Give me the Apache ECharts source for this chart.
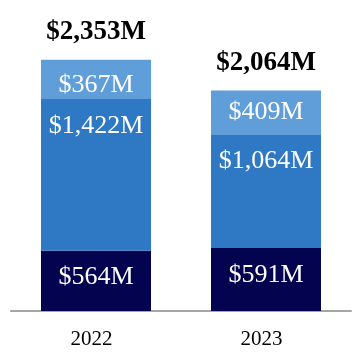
<!DOCTYPE html>
<html><head><meta charset="utf-8">
<script src="https://cdn.jsdelivr.net/npm/echarts@6/dist/echarts.min.js"></script>
<style>html,body{margin:0;padding:0;background:#fff}#c{width:360px;height:360px}</style>
</head><body><div id="c"></div>
<script>
var years = ['2022', '2023'];
var bottomVals = [564, 591];
var middleVals = [1422, 1064];
var topVals = [367, 409];
var totalVals = [2353, 2064];

function money(v) { return '$' + v.toLocaleString('en-US') + 'M'; }

var chart = echarts.init(document.getElementById('c'), null, {renderer: 'canvas'});
var serif = '"Liberation Serif", "Times New Roman", serif';
var valLabel = {show: true, color: '#fff', fontFamily: serif, fontSize: 26,
  formatter: function (p) { return money(p.value); }};
var topData = topVals.map(function (v, i) {
  return i === 0 ? {value: v, label: {offset: [0, 6]}} : v;
});
chart.setOption({
  animation: false,
  grid: {left: 11, right: 9, top: 0, bottom: 49},
  xAxis: {type: 'category', data: years,
    axisLine: {lineStyle: {color: '#a6a6a6', width: 2}},
    axisTick: {show: false},
    axisLabel: {color: '#000', fontFamily: serif, fontSize: 21, margin: 18, padding: [0, 9, 0, 0]}},
  yAxis: {type: 'value', min: 0, max: 2912, show: false, splitLine: {show: false}},
  series: [
    {type: 'bar', stack: 's', data: bottomVals, barWidth: 110,
      itemStyle: {color: '#03034f'},
      label: Object.assign({}, valLabel, {position: 'inside', offset: [0, -4]})},
    {type: 'bar', stack: 's', data: middleVals, barWidth: 110,
      itemStyle: {color: '#2e78c4'},
      label: Object.assign({}, valLabel, {position: 'insideTop', distance: 14})},
    {type: 'bar', stack: 's', data: topData, barWidth: 110,
      itemStyle: {color: '#609ed9'},
      label: Object.assign({}, valLabel, {position: 'inside'})},
    {type: 'bar', data: totalVals, barWidth: 110, barGap: '-100%', z: 0,
      itemStyle: {color: 'rgba(0,0,0,0)'},
      label: {show: true, position: 'top', distance: 14, color: '#000',
        fontFamily: serif, fontSize: 27, fontWeight: 'bold',
        formatter: function (p) { return money(p.value); }}}
  ]
});
</script></body></html>
